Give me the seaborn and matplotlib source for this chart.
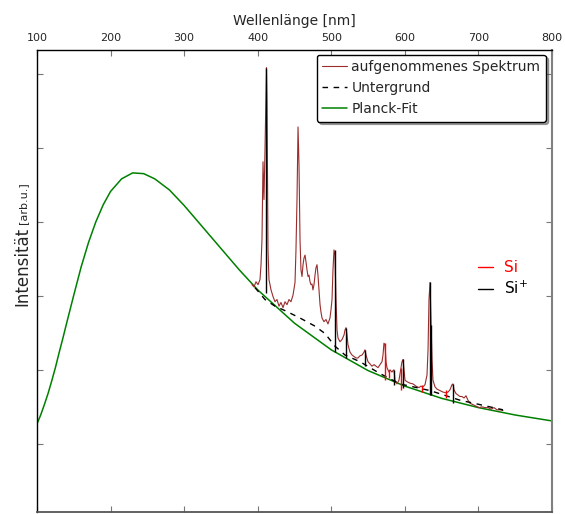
import matplotlib
matplotlib.use("Agg")
import matplotlib.pyplot as plt
from matplotlib.lines import Line2D
import pandas as pd
import seaborn as sns

# Planck-Fit
planck_nm = [100, 105, 110, 115, 120, 125, 130, 135, 140, 150, 160, 170, 180, 190,
             200, 215, 230, 245, 260, 280, 300, 325, 350, 375, 400, 450, 500, 550,
             600, 650, 700, 750, 800]
planck_int = [1.27, 1.39, 1.53, 1.68, 1.85, 2.03, 2.23, 2.42, 2.62, 3.01, 3.39, 3.72, 4.00, 4.23,
              4.41, 4.58, 4.66, 4.65, 4.58, 4.43, 4.22, 3.93, 3.64, 3.35, 3.08, 2.63, 2.27, 1.99,
              1.78, 1.615, 1.49, 1.39, 1.31]

# aufgenommenes Spektrum
spec_nm = [392.2, 394.9, 397.7, 400.4, 403.1, 404.5, 405.8, 407.2, 408.5, 409.9,
           411.3, 411.9, 412.6, 414.0, 415.3, 418.1, 420.8, 423.5, 426.2, 428.9,
           431.6, 434.4, 437.1, 439.8, 442.5, 445.2, 448.0, 450.7, 452.0, 453.4,
           454.8, 456.1, 457.5, 458.8, 460.2, 461.6, 462.9, 464.3, 465.6, 467.0,
           468.4, 469.7, 471.1, 472.4, 473.8, 475.1, 476.5, 477.9, 479.2, 480.6,
           481.9, 483.3, 484.7, 486.0, 487.4, 490.1, 492.8, 495.5, 498.2, 499.6,
           501.0, 502.3, 503.7, 505.0, 506.4, 507.8, 509.1, 511.8, 514.6, 517.3,
           518.7, 520.0, 521.4, 522.7, 525.4, 528.2, 530.9, 533.6, 536.3, 539.0,
           541.8, 544.5, 545.8, 547.2, 549.9, 552.6, 555.3, 558.1, 560.8, 563.5,
           566.2, 568.9, 570.3, 571.6, 573.0, 574.4, 575.7, 577.1, 578.4, 579.8,
           582.5, 583.9, 585.2, 586.6, 589.3, 592.0, 594.7, 596.1, 597.5, 598.8,
           600.2, 602.9, 607.0, 611.1, 615.1, 619.2, 621.9, 624.7, 627.4, 630.1,
           631.5, 632.8, 634.2, 635.5, 636.9, 638.2, 641.0, 643.7, 647.8, 651.8,
           655.9, 658.7, 661.3, 664.1, 665.4, 666.8, 669.5, 672.2, 674.9, 677.7,
           680.4, 683.1, 685.8, 688.5, 692.6, 696.7, 700.8, 704.8, 708.9, 713.0,
           717.1, 721.2, 725.2, 729.3, 733.4]
spec_int = [3.15, 3.12, 3.19, 3.15, 3.22, 3.42, 3.76, 4.81, 4.30, 4.97,
            5.78, 6.08, 5.65, 3.62, 3.22, 3.08, 2.99, 2.92, 2.95, 2.86,
            2.91, 2.84, 2.92, 2.88, 2.95, 2.92, 3.01, 3.18, 3.62, 4.30,
            5.28, 4.77, 3.76, 3.35, 3.26, 3.42, 3.51, 3.55, 3.46, 3.35,
            3.26, 3.28, 3.19, 3.15, 3.16, 3.08, 3.15, 3.28, 3.38, 3.42,
            3.28, 3.08, 2.88, 2.78, 2.70, 2.65, 2.68, 2.62, 2.70, 2.81,
            2.95, 3.35, 3.62, 3.55, 2.95, 2.54, 2.43, 2.38, 2.41, 2.47,
            2.54, 2.57, 2.47, 2.34, 2.24, 2.20, 2.18, 2.16, 2.16, 2.19,
            2.20, 2.24, 2.27, 2.20, 2.11, 2.08, 2.05, 2.07, 2.05, 2.03,
            2.07, 2.11, 2.20, 2.36, 2.34, 2.11, 2.03, 2.00, 1.97, 2.00,
            1.97, 1.99, 2.00, 1.86, 1.81, 1.86, 2.03, 2.11, 2.14, 2.00,
            1.86, 1.84, 1.82, 1.81, 1.78, 1.76, 1.78, 1.77, 1.80, 1.93,
            2.27, 2.95, 3.18, 2.68, 2.14, 1.86, 1.77, 1.74, 1.72, 1.70,
            1.69, 1.70, 1.73, 1.80, 1.81, 1.73, 1.68, 1.66, 1.64, 1.64,
            1.62, 1.65, 1.59, 1.55, 1.53, 1.51, 1.49, 1.50, 1.49, 1.49,
            1.47, 1.49, 1.46, 1.46, 1.45]

# Untergrund
bg_nm = [396.3, 409.9, 423.5, 437.1, 457.5, 477.9, 491.5, 505.0, 518.7, 539.0,
         566.2, 593.4, 634.2, 674.9, 702.2, 733.4]
bg_int = [3.11, 2.95, 2.86, 2.80, 2.70, 2.59, 2.49, 2.32, 2.20, 2.11,
          1.95, 1.81, 1.72, 1.59, 1.53, 1.46]

# Linien Si (rot) und Si+ (schwarz): Position, unteres und oberes Ende
si_nm = [573.0, 578.4, 594.7, 623.3, 655.9]
si_lo = [1.86, 1.89, 1.73, 1.70, 1.62]
si_hi = [2.36, 2.00, 2.03, 1.80, 1.73]

sip_nm = [411.9, 505.0, 520.0, 545.8, 585.2, 597.5, 634.2, 636.2, 665.4]
sip_lo = [3.04, 2.24, 2.16, 2.05, 1.80, 1.76, 1.66, 1.66, 1.55]
sip_hi = [6.08, 3.62, 2.57, 2.27, 2.00, 2.14, 3.18, 2.61, 1.81]

legend_labels = ["aufgenommenes Spektrum", "Untergrund", "Planck-Fit"]
line_labels = ["Si", "Si$^{+}$"]

spec_color = "#9a2c2c"
planck_color = "#008000"
dash = (0, (4, 4))

sns.set_style("ticks", {"xtick.direction": "in", "ytick.direction": "in"})
plt.rcParams["font.family"] = ["DejaVu Sans"]

fig = plt.figure(figsize=(5.65, 5.14), dpi=100)
ax = fig.add_axes([37 / 565, 2 / 514, 515 / 565, 462 / 514])

planck = pd.DataFrame({"nm": planck_nm, "I": planck_int})
spec = pd.DataFrame({"nm": spec_nm, "I": spec_int})
bg = pd.DataFrame({"nm": bg_nm, "I": bg_int})

sns.lineplot(data=planck, x="nm", y="I", ax=ax, color=planck_color, lw=1.1, estimator=None)
sns.lineplot(data=spec, x="nm", y="I", ax=ax, color=spec_color, lw=0.8, estimator=None)
sns.lineplot(data=bg, x="nm", y="I", ax=ax, color="k", lw=1.0, linestyle=dash, estimator=None)
ax.vlines(si_nm, si_lo, si_hi, colors="r", lw=1.0)
ax.vlines(sip_nm, sip_lo, sip_hi, colors="k", lw=1.0)

ax.set_xlim(100, 800)
ax.set_ylim(0.08, 6.32)
ax.set_xticks(range(100, 801, 100))
ax.set_yticks(range(1, 7))
ax.set_yticklabels([])
ax.set_ylabel("")
ax.tick_params(axis="x", top=True, bottom=True, labeltop=True, labelbottom=False,
               direction="in", length=4, pad=5, labelsize=8, color="#777777")
ax.tick_params(axis="y", left=True, right=True, direction="in", length=4, color="#777777")
ax.xaxis.set_label_position("top")
ax.set_xlabel("Wellenlänge [nm]", fontsize=10, labelpad=6)

for side in ["left", "top"]:
    ax.spines[side].set_color("black")
    ax.spines[side].set_linewidth(1.0)
ax.spines["right"].set_color("#808080")
ax.spines["right"].set_linewidth(1.5)
ax.spines["bottom"].set_color("#555555")
ax.spines["bottom"].set_linewidth(1.3)

handles = [Line2D([], [], color=spec_color, lw=0.8),
           Line2D([], [], color="k", lw=1.0, linestyle=dash),
           Line2D([], [], color=planck_color, lw=1.1)]
leg1 = ax.legend(handles, legend_labels, loc="upper right", bbox_to_anchor=(0.988, 0.99),
                 borderaxespad=0, fontsize=10, fancybox=True, shadow=True, framealpha=1,
                 edgecolor="black", handlelength=1.8, handletextpad=0.3)
leg1.get_frame().set_linewidth(1.0)
ax.add_artist(leg1)

handles2 = [Line2D([], [], color="r", lw=1.0), Line2D([], [], color="k", lw=1.0)]
ax.legend(handles2, line_labels, loc="upper left", bbox_to_anchor=(0.856, 0.545),
          frameon=False, fontsize=11, labelcolor=["red", "black"], handlelength=1.0,
          handletextpad=0.7, borderpad=0, borderaxespad=0, labelspacing=0.3)

fig.text(22 / 565, 1 - 266 / 514, "Intensität", rotation=90, fontsize=12,
         ha="center", va="center")
fig.text(23 / 565, 1 - 203 / 514, "[arb.u.]", rotation=90, fontsize=8,
         ha="center", va="center")

fig.savefig("out.png", dpi=100)
plt.close(fig)
